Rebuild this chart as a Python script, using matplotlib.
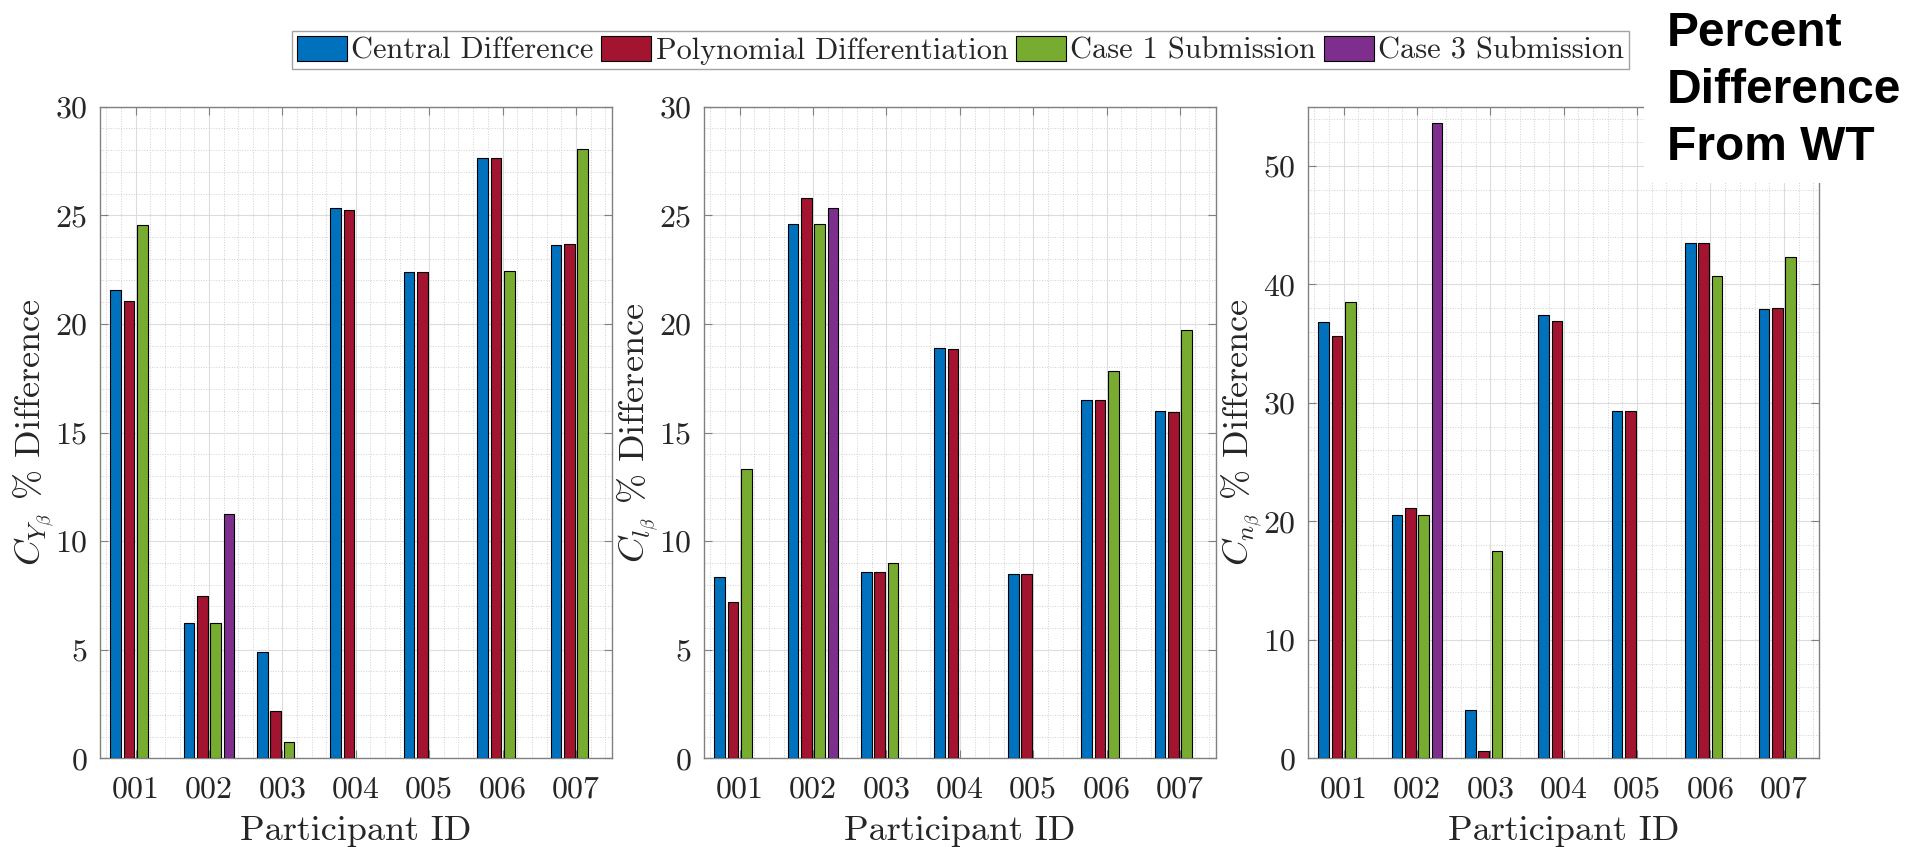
import numpy as np
import matplotlib
matplotlib.use("Agg")
import matplotlib.pyplot as plt
from matplotlib.patches import Rectangle

# MATLAB-like look with Computer Modern text
plt.rcParams["font.family"] = "serif"
plt.rcParams["font.serif"] = ["cmr10"]
plt.rcParams["mathtext.fontset"] = "cm"
plt.rcParams["axes.formatter.use_mathtext"] = True

participants = ["001", "002", "003", "004", "005", "006", "007"]
methods = ["Central Difference", "Polynomial Differentiation",
           "Case 1 Submission", "Case 3 Submission"]
colors = ["#0072BD", "#A2142F", "#77AC30", "#7E2F8E"]

nan = np.nan

# C_Y_beta percent difference
cy_central = [21.55, 6.22, 4.91, 25.35, 22.40, 27.63, 23.62]
cy_poly = [21.07, 7.48, 2.16, 25.26, 22.40, 27.63, 23.66]
cy_case1 = [24.54, 6.22, 0.77, nan, nan, 22.45, 28.06]
cy_case3 = [nan, 11.27, nan, nan, nan, nan, nan]

# C_l_beta percent difference
cl_central = [8.36, 24.61, 8.59, 18.89, 8.50, 16.48, 16.00]
cl_poly = [7.21, 25.78, 8.56, 18.84, 8.50, 16.48, 15.96]
cl_case1 = [13.30, 24.61, 8.97, nan, nan, 17.85, 19.70]
cl_case3 = [nan, 25.33, nan, nan, nan, nan, nan]

# C_n_beta percent difference
cn_central = [36.82, 20.57, 4.06, 37.41, 29.33, 43.48, 37.91]
cn_poly = [35.63, 21.12, 0.59, 36.91, 29.33, 43.48, 38.00]
cn_case1 = [38.55, 20.57, 17.52, nan, nan, 40.74, 42.29]
cn_case3 = [nan, 53.60, nan, nan, nan, nan, nan]

panels = [
    (r"$C_{Y_\beta}$ % Difference", [cy_central, cy_poly, cy_case1, cy_case3], 30, 5, 1),
    (r"$C_{l_\beta}$ % Difference", [cl_central, cl_poly, cl_case1, cl_case3], 30, 5, 1),
    (r"$C_{n_\beta}$ % Difference", [cn_central, cn_poly, cn_case1, cn_case3], 55, 10, 2),
]

fig = plt.figure(figsize=(19.05, 8.47), dpi=100)

lefts = [0.0525, 0.3696, 0.6866]
x = np.arange(1, len(participants) + 1)
n_series = len(methods)
group_w = min(0.8, n_series / (n_series + 1.5))
bar_step = group_w / n_series
bar_w = 0.8 * bar_step
offsets = (np.arange(n_series) - (n_series - 1) / 2) * bar_step

axes = []
for left, (ylabel, series, ytop, ystep, yminor) in zip(lefts, panels):
    ax = fig.add_axes([left, 0.1047, 0.2685, 0.7693])
    for k, vals in enumerate(series):
        ax.bar(x + offsets[k], vals, width=bar_w, color=colors[k],
               edgecolor="black", linewidth=0.8, label=methods[k], zorder=3)

    ax.set_xlim(0.515, 7.485)
    ax.set_ylim(0, ytop)
    ax.set_xticks(x)
    ax.set_xticklabels(participants)
    ax.set_yticks(np.arange(0, ytop + 0.01, ystep))
    ax.set_xticks(np.arange(0.6, 7.5, 0.2), minor=True)
    ax.set_yticks(np.arange(0, ytop + 0.01, yminor), minor=True)

    ax.set_axisbelow(True)
    ax.grid(True, which="major", color="#dcdcdc", linewidth=0.8)
    ax.grid(True, which="minor", color="#d0d0d0", linestyle=":", linewidth=0.7)

    for sp in ax.spines.values():
        sp.set_color("#808080")
        sp.set_linewidth(1.0)
    ax.tick_params(which="major", direction="in", length=6, width=0.8,
                   color="#808080", top=True, right=True,
                   labelsize=23, labelcolor="#262626", pad=9)
    ax.tick_params(axis="x", which="major", pad=13)
    ax.tick_params(which="minor", length=0, top=True, right=True)

    ax.set_ylabel(ylabel, fontsize=26, color="#262626", labelpad=-1.5)
    ax.set_xlabel("Participant ID", fontsize=26, color="#262626", labelpad=8)
    axes.append(ax)

handles, labels = axes[0].get_legend_handles_labels()
leg = fig.legend(handles, labels, loc="center", bbox_to_anchor=(0.5042, 0.9408),
                 ncol=4, fontsize=21.8, frameon=True, fancybox=False,
                 handlelength=1.65, handleheight=0.9, handletextpad=0.15,
                 columnspacing=0.25, borderpad=0.15, borderaxespad=0)
leg.get_frame().set_edgecolor("#8c8c8c")
leg.get_frame().set_linewidth(1.0)
for t in leg.get_texts():
    t.set_color("#262626")

# white block with the panel title over the top right corner
fig.add_artist(Rectangle((1644 / 1905, 1 - 183.5 / 847), 1.0, 1.0,
                         transform=fig.transFigure, facecolor="white",
                         edgecolor="none", zorder=10))
fig.text(0.875, 1 - 160 / 847, "Percent\nDifference\nFrom WT",
         fontsize=34.5, fontweight="bold", family="Liberation Sans",
         ha="left", va="baseline", linespacing=1.34, zorder=11)

fig.savefig("out.png", dpi=100)
